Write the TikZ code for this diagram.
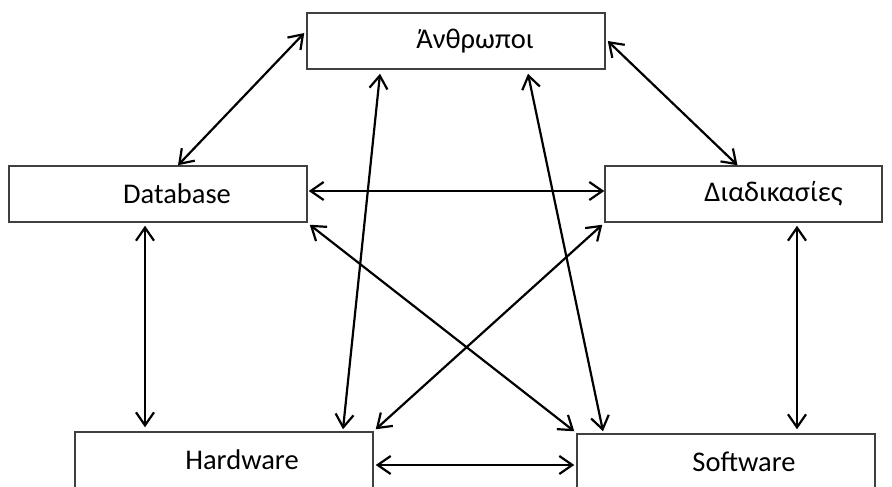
\documentclass[tikz,border=0pt]{standalone}
\usepackage{fontspec}
\setmainfont{Carlito}
\usetikzlibrary{arrows.meta, positioning}

\begin{document}
\begin{tikzpicture}[
  x=1pt, y=-1pt,
  box/.style={rectangle, draw=black!75, line width=1.5pt,
             minimum width=298pt, minimum height=56pt, inner sep=0pt,
             font=\fontsize{28.5}{33}\selectfont},
  arrow/.style={{Straight Barb[length=13pt, width=18pt]}-{Straight Barb[length=13pt, width=18pt]}, line width=2.2pt, color=black}
]
\useasboundingbox (0,0) rectangle (892,487);

\node[box] (people) at (456,41) {\hspace*{38pt}Άνθρωποι};
\node[box] (db) at (158,194) {\hspace*{38pt}Database};
\node[box, minimum width=277pt] (proc) at (743.5,194) {\hspace*{60pt}Διαδικασίες};
\node[box] (hw) at (224,460) {\hspace*{36pt}Hardware};
\node[box] (sw) at (726,462) {\hspace*{36pt}Software};

\draw[arrow] ([xshift=20pt]db.north) -- ([yshift=8pt, xshift=-2pt]people.west);
\draw[arrow] ([xshift=2pt]people.east) -- ([xshift=-6pt]proc.north);
\draw[arrow] ([xshift=1pt, yshift=3pt]db.east) -- ([yshift=3pt]proc.west);
\draw[arrow] ([xshift=-13pt, yshift=-3pt]db.south) -- ([xshift=-79pt, yshift=4pt]hw.north);
\draw[arrow] ([xshift=53.5pt, yshift=-3pt]proc.south) -- ([xshift=71pt, yshift=4pt]sw.north);
\draw[arrow] ([xshift=2pt, yshift=-5pt]hw.east) -- ([xshift=-2pt, yshift=-3pt]sw.west);
\draw[arrow] ([xshift=-76pt, yshift=-4pt]people.south) -- ([xshift=119pt, yshift=2pt]hw.north);
\draw[arrow] ([xshift=72pt, yshift=-4pt]people.south) -- ([xshift=-123pt, yshift=2pt]sw.north);
\draw[arrow] ([xshift=2pt, yshift=-2pt]db.south east) -- ([xshift=-2pt, yshift=2pt]sw.north west);
\draw[arrow] ([xshift=-2pt, yshift=-2pt]proc.south west) -- ([xshift=2pt, yshift=2pt]hw.north east);

\end{tikzpicture}
\end{document}
